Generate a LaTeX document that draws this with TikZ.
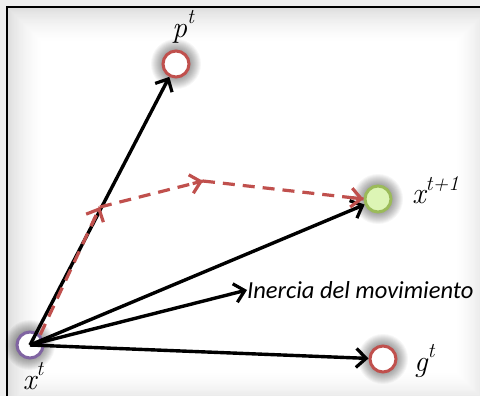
\documentclass[tikz,border=0pt]{standalone}
\usepackage{fontspec}
\newfontfamily\calib{Carlito}
\usetikzlibrary{arrows.meta,calc}
\definecolor{redb}{HTML}{C0504D}
\definecolor{purb}{HTML}{8064A2}
\definecolor{grnb}{HTML}{9BBB59}
\definecolor{grnf}{HTML}{DDF5B5}
\definecolor{bgout}{HTML}{EFEFEF}
\tikzset{
  pt/.style={circle,minimum size=26pt,inner sep=0pt,line width=3pt,fill=white},
  tip/.style={-{Straight Barb[length=10pt,width=19pt,line width=3.2pt]}},
  vec/.style={line width=3.4pt,black,tip},
  dsh/.style={line width=3.2pt,redb,dash pattern=on 12pt off 8pt},
  lbl/.style={font=\fontsize{30}{32}\selectfont\itshape,inner sep=0pt},
}
\newcommand{\glowat}[1]{\foreach \r in {25,24,...,14}{\fill[black,opacity=0.035] (#1) circle (\r pt);}}
\newcommand{\supr}[1]{\raisebox{0.45em}{\fontsize{21}{22}\selectfont #1}}
\begin{document}
\begin{tikzpicture}[x=1pt,y=-1pt]
\useasboundingbox (0,0) rectangle (480,396);
\fill[bgout] (0,0) rectangle (480,396);
% frame with soft vignette
\fill[white] (7,7) rectangle (490,406);
\foreach \i in {0,...,29}{
  \pgfmathsetmacro{\gv}{26*(1-\i/30)^1.6}
  \draw[line width=1.3pt,color=gray!\gv] (7.6+\i*1.2,7.6+\i*1.2) rectangle (490-\i*1.2,406-\i*1.2);
}
\draw[line width=1.8pt] (7,406) -- (7,7) -- (490,7);

% glows
\glowat{30,345}
\glowat{176,64}
\glowat{378,199}
\glowat{383,359}

% points
\node[pt,draw=purb] (xt) at (30,345) {};
\node[pt,draw=redb] (pt) at (176,64) {};
\node[pt,draw=grnb,fill=grnf] (xn) at (378,199) {};
\node[pt,draw=redb] (gt) at (383,359) {};
\coordinate (mid) at (100,207);
\coordinate (bend) at (203,181);

% labels
\node[lbl] (lp) at (183,27) {p\supr{t}};
\node[lbl,anchor=west] (lxn) at (412,190) {x\supr{t+1}};
\node[lbl,anchor=west] (lg) at (414,361) {g\supr{t}};
\node[lbl] (lx) at (33,376) {x\supr{t}};
\node[anchor=west,inner sep=0pt,font=\calib\itshape\fontsize{24.5}{26}\selectfont] (in) at (247,290) {Inercia del movimiento};

% vectors
\draw[vec] (xt.center) -- (pt);
\draw[vec] (xt.center) -- (xn);
\draw[vec] (xt.center) -- (in.west);
\draw[vec] (xt.center) -- (gt);

% dashed path
\draw[dsh] (xt.north east) -- (mid);
\draw[dsh,tip] ($(xt.north east)!0.85!(mid)$) -- (mid);
\draw[dsh] (mid) -- (bend);
\draw[dsh] (bend) -- (xn.west);
\draw[line width=3.2pt,redb,tip] ($(mid)!0.9!(bend)$) -- (bend);
\draw[line width=3.2pt,redb,tip] ($(bend)!0.93!(xn.west)$) -- (xn.west);
\end{tikzpicture}
\end{document}
